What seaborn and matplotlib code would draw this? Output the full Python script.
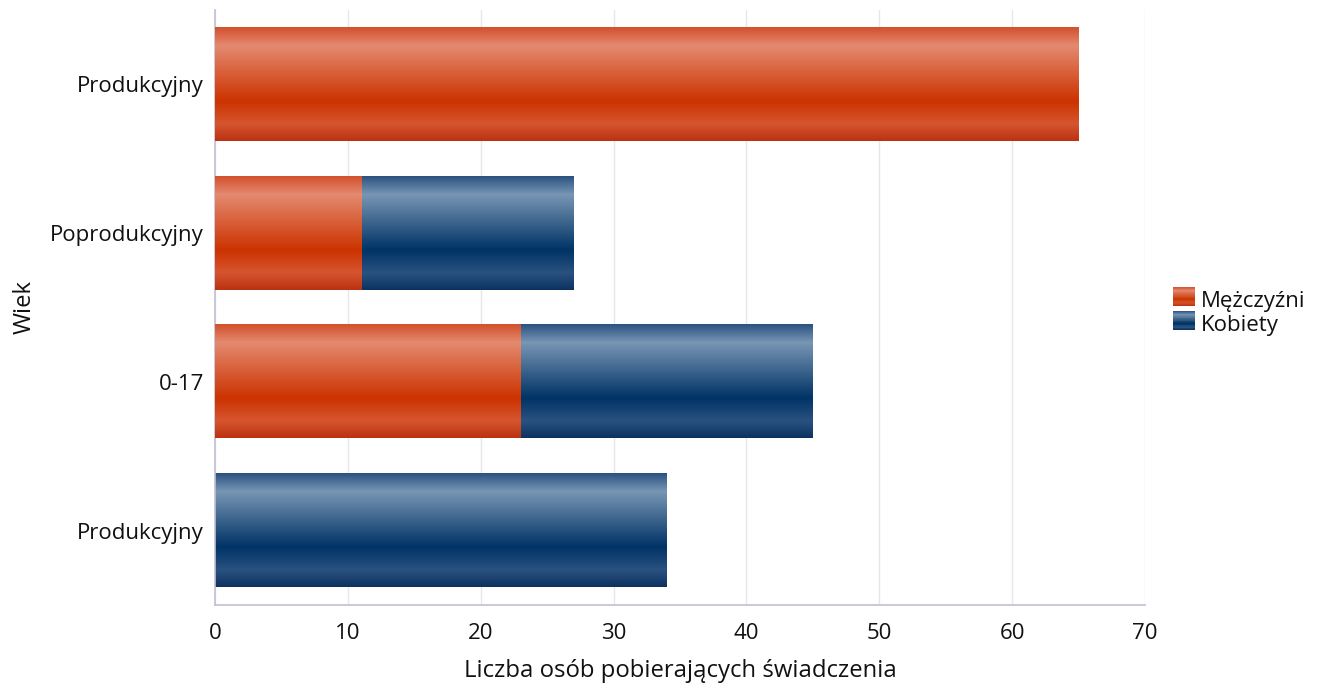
import numpy as np
import pandas as pd
import seaborn as sns
import matplotlib.pyplot as plt
from matplotlib.colors import LinearSegmentedColormap
from matplotlib.patches import Rectangle
from matplotlib.legend_handler import HandlerBase

# data
categories = ['Produkcyjny', 'Poprodukcyjny', '0-17', 'Produkcyjny']
men = [65, 11, 23, 0]
women = [0, 16, 22, 34]
series_names = ['Mężczyźni', 'Kobiety']

# gradient stops (top -> bottom of a bar)
stops = [0.0, 0.16, 0.65, 0.85, 1.0]
orange_cols = ['#d2502d', '#e48a70', '#cc3300', '#d5552f', '#bc3210']
blue_cols = ['#2a5280', '#7896b4', '#003366', '#2a5280', '#0c3260']
orange_cmap = LinearSegmentedColormap.from_list('or', list(zip(stops, orange_cols)))
blue_cmap = LinearSegmentedColormap.from_list('bl', list(zip(stops, blue_cols)))

sns.set_style('white')
plt.rcParams['font.family'] = ['Open Sans', 'DejaVu Sans']

df = pd.DataFrame({
    'row': ['r%d' % i for i in range(len(categories))],
    'men': men,
    'total': [m + w for m, w in zip(men, women)],
})

fig = plt.figure(figsize=(13.19, 6.9), dpi=100)
ax = fig.add_axes([215 / 1319, 85 / 690, 930 / 1319, 595 / 690])

sns.barplot(data=df, x='total', y='row', orient='h', color='#003366',
            width=0.76, ax=ax)
n_blue = len(ax.patches)
sns.barplot(data=df, x='men', y='row', orient='h', color='#cc3300',
            width=0.76, ax=ax)

grad = np.linspace(0, 1, 256).reshape(-1, 1)
for i, p in enumerate(ax.patches):
    x0, y0 = p.get_x(), p.get_y()
    w, h = p.get_width(), p.get_height()
    p.set_visible(False)
    if w <= 0:
        continue
    cmap = blue_cmap if i < n_blue else orange_cmap
    ax.imshow(grad, cmap=cmap, aspect='auto', origin='upper',
              extent=(x0, x0 + w, y0 + h, y0), zorder=2 + (i >= n_blue),
              interpolation='bilinear')

ax.set_xlim(0, 70)
ax.set_ylim(3.5, -0.5)
ax.set_xticks(range(0, 71, 10))
ax.set_yticks(range(len(categories)))
ax.set_yticklabels(categories)
ax.grid(axis='x', color='#e6e6ee', linewidth=1)
ax.set_axisbelow(True)
for s in ['top', 'right']:
    ax.spines[s].set_visible(False)
for s in ['left', 'bottom']:
    ax.spines[s].set_color('#c0c0d4')
    ax.spines[s].set_linewidth(1.2)
ax.tick_params(axis='both', length=0, labelsize=16, colors='#111111')
ax.tick_params(axis='x', pad=13)
ax.tick_params(axis='y', pad=8)
ax.set_xlabel('Liczba osób pobierających świadczenia', fontsize=17.2,
              color='#111111', labelpad=11)
ax.set_ylabel('Wiek', fontsize=17.2, color='#111111', labelpad=10)


class GradHandler(HandlerBase):
    def __init__(self, cmap):
        super().__init__()
        self.cmap = cmap

    def create_artists(self, legend, orig, xd, yd, width, height, fontsize, trans):
        arts = []
        n = 24
        for k in range(n):
            c = self.cmap((k + 0.5) / n)
            arts.append(Rectangle((xd, yd + height - (k + 1) * height / n), width,
                                  height / n, facecolor=c, edgecolor='none',
                                  transform=trans))
        return arts


h_m = Rectangle((0, 0), 1, 1)
h_w = Rectangle((0, 0), 1, 1)
ax.legend([h_m, h_w], series_names, loc='center left', bbox_to_anchor=(1.013, 0.49),
          frameon=False, fontsize=16, handlelength=1.0, handleheight=0.9,
          handletextpad=0.25, labelspacing=0.1, borderpad=0.2,
          labelcolor='#111111',
          handler_map={h_m: GradHandler(orange_cmap), h_w: GradHandler(blue_cmap)})

fig.savefig('out.png', dpi=100)
